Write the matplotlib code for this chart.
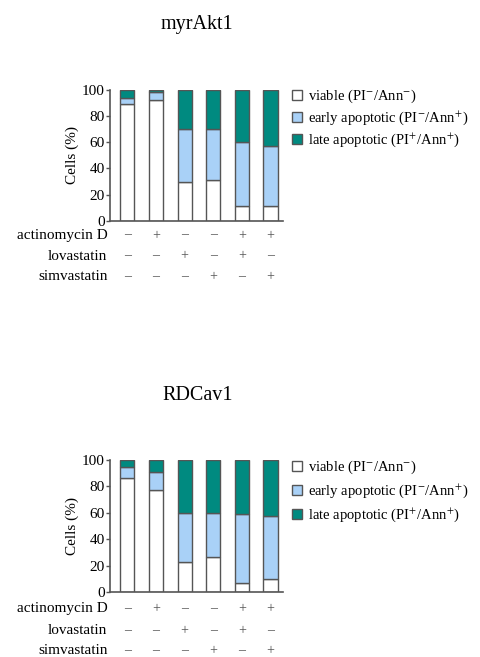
import matplotlib
matplotlib.use('Agg')
from matplotlib import pyplot as plt
import numpy as np

plt.rcParams['font.family'] = ['Liberation Serif', 'DejaVu Serif']
plt.rcParams['mathtext.fontset'] = 'stix'

# 数据（从图中读出，单位 %）
titles = ['myrAkt1', 'RDCav1']
viable_akt = [89, 92, 29.5, 31.5, 11.5, 11.5]
early_akt = [5, 6.5, 41, 39, 49, 45.5]
viable_cav = [86.5, 77, 23, 26.5, 7, 10]
early_cav = [8, 13.5, 36.5, 33, 52, 47.5]

row_labels = ['actinomycin D', 'lovastatin', 'simvastatin']
actinomycin = ['–', '+', '–', '–', '+', '+']
lovastatin = ['–', '–', '+', '–', '+', '–']
simvastatin = ['–', '–', '–', '+', '–', '+']

legend_labels = ['viable (PI$^{-}$/Ann$^{-}$)',
                 'early apoptotic (PI$^{-}$/Ann$^{+}$)',
                 'late apoptotic (PI$^{+}$/Ann$^{+}$)']

c_viable = 'white'
c_early = '#a9d1f7'
c_late = '#008a80'
edge = '#555555'

fig = plt.figure(figsize=(4.81, 6.57), dpi=100)
ax1 = fig.add_axes([0.229, 0.664, 0.359, 0.199])
ax2 = fig.add_axes([0.229, 0.099, 0.359, 0.201])

x = np.arange(6)
setup = [(ax1, titles[0], viable_akt, early_akt, 44, [-0.11, -0.27, -0.43], 0.3, 1.06),
         (ax2, titles[1], viable_cav, early_cav, 43, [-0.125, -0.29, -0.445], 0.42, 1.05)]
for ax, title, viable, early, tpad, rows_y, lspace, ly in setup:
    viable = np.array(viable)
    early = np.array(early)
    late = 100 - viable - early
    w = 0.49
    ax.bar(x, viable, w, color=c_viable, edgecolor=edge, linewidth=1, label=legend_labels[0])
    ax.bar(x, early, w, bottom=viable, color=c_early, edgecolor=edge, linewidth=1, label=legend_labels[1])
    ax.bar(x, late, w, bottom=viable + early, color=c_late, edgecolor=edge, linewidth=1, label=legend_labels[2])

    ax.set_xlim(-0.6, 5.43)
    ax.set_ylim(0, 100)
    ax.set_yticks([0, 20, 40, 60, 80, 100])
    ax.set_xticks([])
    ax.tick_params(axis='y', labelsize=11, length=3, width=1, color=edge, pad=1)
    for s in ['top', 'right']:
        ax.spines[s].set_visible(False)
    for s in ['left', 'bottom']:
        ax.spines[s].set_color(edge)
        ax.spines[s].set_linewidth(1.2)
    ax.set_ylabel('Cells (%)', fontsize=11, labelpad=2)
    ax.set_title(title, fontsize=14.5, pad=tpad, x=0.505)

    ax.legend(loc='upper left', bbox_to_anchor=(1.02, ly), frameon=False,
              fontsize=10.5, handlelength=0.7, handleheight=0.7,
              handletextpad=0.4, labelspacing=lspace, borderaxespad=0)

    # 处理条件行
    trans = ax.get_xaxis_transform()
    for lab, vals, yy in zip(row_labels, [actinomycin, lovastatin, simvastatin], rows_y):
        ax.text(-0.015, yy, lab, transform=ax.transAxes, ha='right', va='center', fontsize=11)
        for xi, v in zip(x, vals):
            ax.text(xi, yy, v, transform=trans, ha='center', va='center', fontsize=10, color='#555555')

fig.savefig('out.png', dpi=100)
